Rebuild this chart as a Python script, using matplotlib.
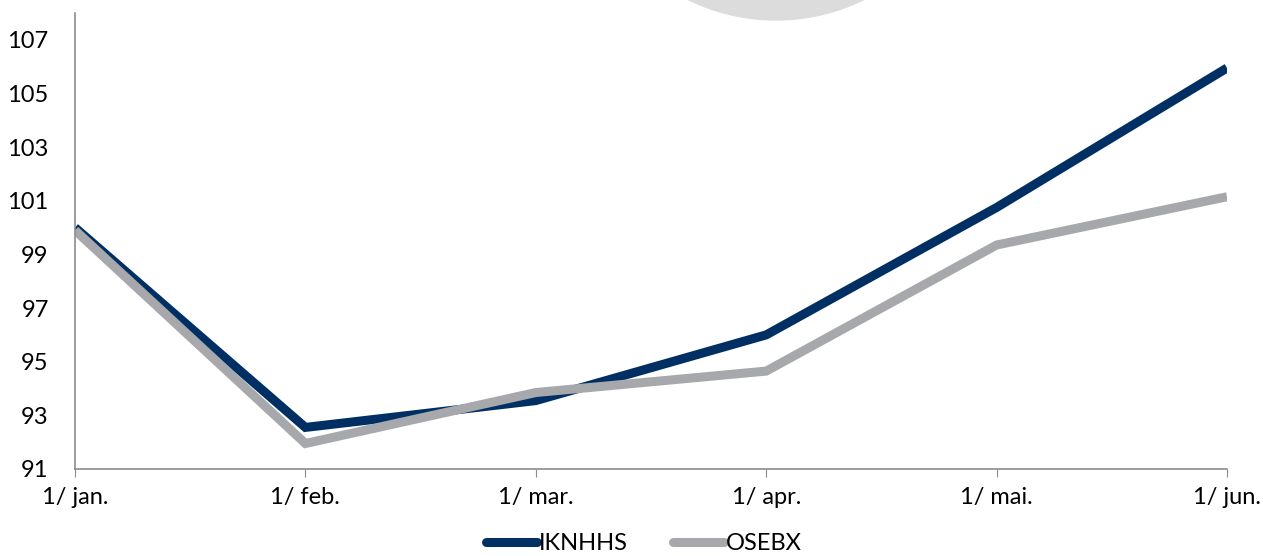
import matplotlib
matplotlib.use('Agg')
import matplotlib.pyplot as plt
from matplotlib.patches import Circle

# data
months = ['1/ jan.', '1/ feb.', '1/ mar.', '1/ apr.', '1/ mai.', '1/ jun.']
iknhhs = [100.0, 92.55, 93.55, 96.0, 100.75, 105.95]
osebx = [99.9, 91.95, 93.85, 94.65, 99.35, 101.15]
yticks = [91, 93, 95, 97, 99, 101, 103, 105, 107]

navy = '#003063'
gray = '#A7A8AB'
plt.rcParams['font.family'] = ['Lato', 'DejaVu Sans']

fig = plt.figure(figsize=(12.63, 5.56), dpi=100)
# faint watermark circle at the top (display pixels, origin bottom-left)
fig.patches.append(Circle((776, 556 + 179), 199, transform=None, color='#DCDCDC', zorder=0))

ax = fig.add_axes([0.0594, 0.1565, 0.9121, 0.8201])
ax.patch.set_alpha(0)
x = list(range(len(months)))
ax.plot(x, iknhhs, color=navy, lw=6.5, solid_joinstyle='miter', solid_capstyle='butt', label='IKNHHS')
ax.plot(x, osebx, color=gray, lw=6.5, solid_joinstyle='miter', solid_capstyle='butt', label='OSEBX')

ax.set_xlim(0, len(months) - 1)
ax.set_ylim(91, 108)
ax.set_xticks(x)
ax.set_xticklabels(months)
ax.set_yticks(yticks)
for s in ['top', 'right']:
    ax.spines[s].set_visible(False)
for s in ['left', 'bottom']:
    ax.spines[s].set_color('#8C8C8C')
    ax.spines[s].set_linewidth(1.2)
ax.tick_params(axis='x', direction='out', length=6, color='#8C8C8C', labelsize=17, pad=7)
ax.tick_params(axis='y', length=0, labelsize=17, pad=19)

leg = fig.legend(loc='lower center', bbox_to_anchor=(0.51, -0.035), ncol=2, frameon=False,
                 fontsize=17, handlelength=2.15, handletextpad=0.1, columnspacing=1.9)
for h in leg.get_lines():
    h.set_solid_capstyle('round')

fig.savefig('out.png', dpi=100)
